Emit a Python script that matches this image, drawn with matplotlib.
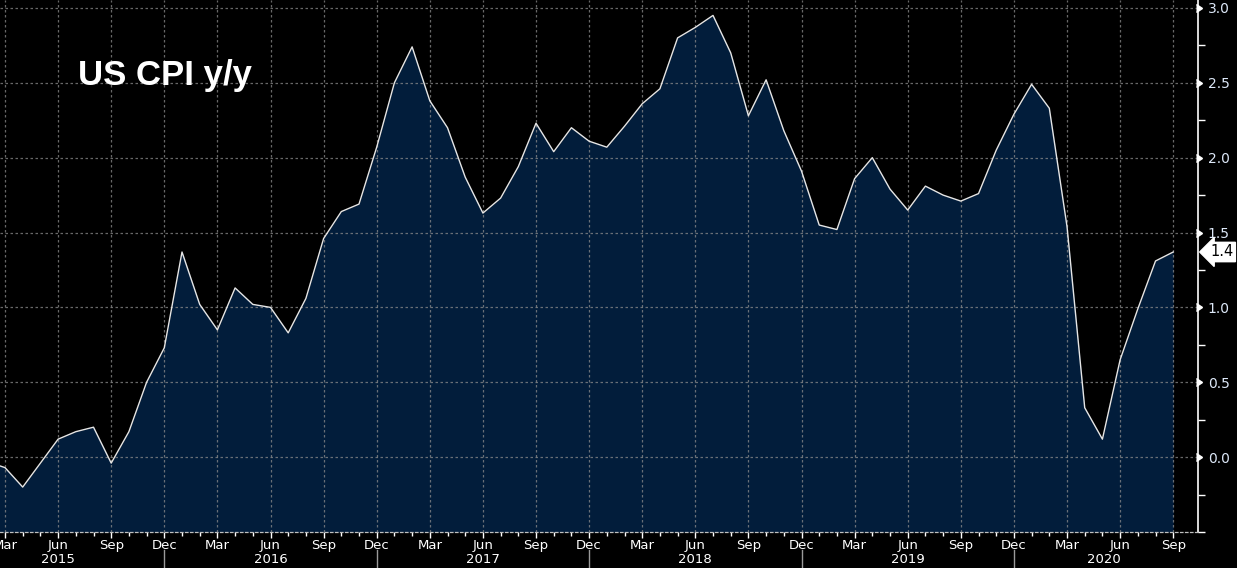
import numpy as np
import pandas as pd
import matplotlib
matplotlib.use("Agg")
import matplotlib.pyplot as plt
from matplotlib.transforms import blended_transform_factory

# monthly US CPI y/y (%), Feb 2015 .. Sep 2020
months = pd.date_range("2015-02-01", "2020-09-01", freq="MS")
cpi = [
    -0.03, -0.07, -0.20, -0.04, 0.12, 0.17, 0.20, -0.04, 0.17, 0.50, 0.73,      # 2015
    1.37, 1.02, 0.85, 1.13, 1.02, 1.00, 0.83, 1.06, 1.46, 1.64, 1.69, 2.07,    # 2016
    2.50, 2.74, 2.38, 2.20, 1.87, 1.63, 1.73, 1.94, 2.23, 2.04, 2.20, 2.11,    # 2017
    2.07, 2.21, 2.36, 2.46, 2.80, 2.87, 2.95, 2.70, 2.28, 2.52, 2.18, 1.91,    # 2018
    1.55, 1.52, 1.86, 2.00, 1.79, 1.65, 1.81, 1.75, 1.71, 1.76, 2.05, 2.29,    # 2019
    2.49, 2.33, 1.54, 0.33, 0.12, 0.65, 0.99, 1.31, 1.37,                      # 2020
]
last_label = "1.4"
title = "US CPI y/y"
yticks = [0.0, 0.5, 1.0, 1.5, 2.0, 2.5, 3.0]

BG = "#000000"
FILL = "#021d3b"
LINE = "#e6e6e6"
GRID = "#8c8c8c"
TXT = "#ffffff"
YTXT = "#dde8f8"

x = np.arange(len(months))
fig = plt.figure(figsize=(12.37, 5.68), dpi=100, facecolor=BG)
ax = fig.add_axes([0.0, 36 / 568, 1198 / 1237, 532 / 568])
ax.set_facecolor(BG)

ax.fill_between(x, cpi, -0.5, color=FILL, lw=0, zorder=1)
ax.plot(x, cpi, color=LINE, lw=1.0, zorder=3)

# grid
quarters = [i for i, m in enumerate(months) if m.month in (3, 6, 9, 12)]
for q in quarters:
    ax.axvline(q, color=GRID, lw=0.9, ls=(0, (2, 2)), alpha=0.75, zorder=2)
for yv in yticks:
    ax.axhline(yv, color=GRID, lw=0.9, ls=(0, (2, 2)), alpha=0.75, zorder=2)

# spines
for s in ("top", "left"):
    ax.spines[s].set_visible(False)
ax.spines["right"].set_color("#ffffff")
ax.spines["right"].set_linewidth(1.2)
ax.spines["bottom"].set_color("#bfbfbf")
ax.spines["bottom"].set_linestyle((0, (2, 2)))
ax.spines["bottom"].set_linewidth(0.9)

# y axis on right
ax.yaxis.tick_right()
ax.set_yticks(yticks)
ax.set_yticklabels([f"{v:.1f}" for v in yticks], color=YTXT, fontsize=10,
                   family="DejaVu Sans")
ax.set_yticks(np.arange(-0.5, 3.01, 0.25), minor=True)
ax.tick_params(axis="y", which="major", length=0, pad=7)
ax.tick_params(axis="y", which="minor", length=5, width=1, color="#ffffff", direction="out")

# x axis: months on quarters, monthly minor ticks
ax.set_xticks(quarters)
ax.set_xticklabels([months[q].strftime("%b") for q in quarters], color=TXT, fontsize=9.5,
                   family="DejaVu Sans")
ax.set_xticks(x, minor=True)
ax.tick_params(axis="x", which="major", length=4, width=1, color="#ffffff", pad=1)
ax.tick_params(axis="x", which="minor", length=3, width=1, color="#ffffff")

# limits after ticks (set_xticks expands the view)
ax.set_xlim(1 - 5 / 17.7, 68.4)
ax.set_ylim(-0.5, 3.053)

tr = blended_transform_factory(ax.transAxes, ax.transData)
ax.plot([1.003] * len(yticks), yticks, marker=5, ms=6, color="#ffffff", ls="none",
        transform=tr, clip_on=False, zorder=5)

# year labels and separators
trx = blended_transform_factory(ax.transData, ax.transAxes)
for yr in range(2015, 2021):
    jun = [i for i, m in enumerate(months) if m.year == yr and m.month == 6][0]
    xpos = jun if yr < 2020 else jun - 0.9
    ax.text(xpos, -0.039, str(yr), transform=trx, ha="center", va="top", color=TXT,
            fontsize=9.5, family="DejaVu Sans")
    dec = [i for i, m in enumerate(months) if m.year == yr and m.month == 12]
    if dec:
        ax.plot([dec[0], dec[0]], [-0.034, -0.07], color="#9a9a9a", lw=1,
                transform=trx, clip_on=False)

# last value tag
ax.annotate(last_label, xy=(1.0, cpi[-1]), xycoords=tr, xytext=(1.01, cpi[-1]),
            textcoords=tr, ha="left", va="center", fontsize=10.5, color="#000000",
            family="DejaVu Sans",
            bbox=dict(boxstyle="larrow,pad=0.15", fc="#ffffff", ec="#ffffff"))

ax.text(78 / 1198, 1 - 75 / 532, title, transform=ax.transAxes, ha="left", va="center",
        color=TXT, fontsize=25, fontweight="bold", family="Liberation Sans")

ax.set_xlim(1 - 5 / 17.7, 68.4)
ax.set_ylim(-0.5, 3.053)

fig.savefig("out.png", dpi=100, facecolor=BG)
